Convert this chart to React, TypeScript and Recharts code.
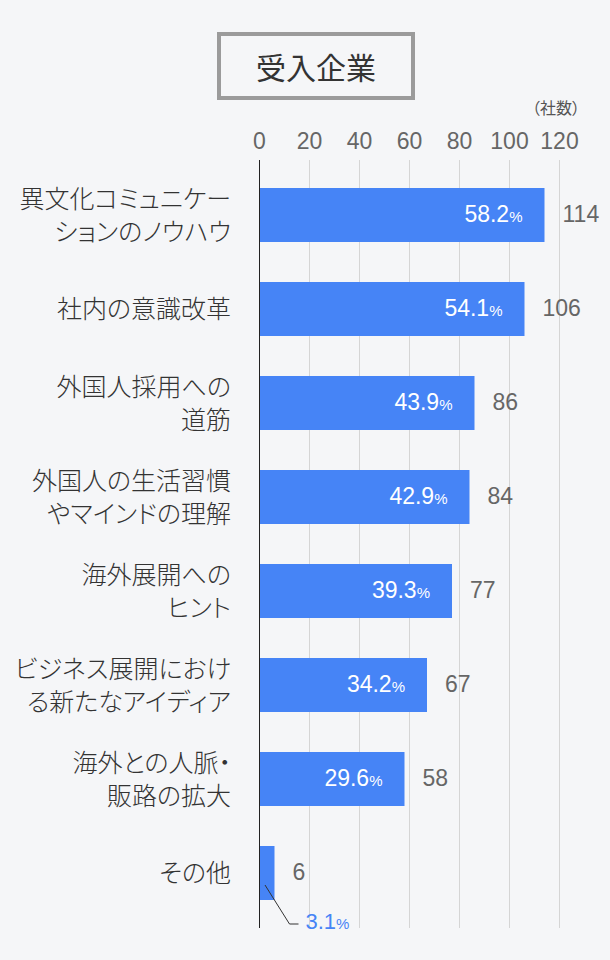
import React from 'react';
import { BarChart, Bar, XAxis, YAxis, CartesianGrid, ReferenceLine, LabelList } from 'recharts';

// 受入企業: what host companies gained (number of companies, share of respondents)
const categories = [
  '異文化コミュニケー\nションのノウハウ',
  '社内の意識改革',
  '外国人採用への\n道筋',
  '外国人の生活習慣\nやマインドの理解',
  '海外展開への\nヒント',
  'ビジネス展開におけ\nる新たなアイディア',
  '海外との人脈・\n販路の拡大',
  'その他',
];
const counts = [114, 106, 86, 84, 77, 67, 58, 6];
const shares = ['58.2', '54.1', '43.9', '42.9', '39.3', '34.2', '29.6', '3.1'];
const xTicks = [0, 20, 40, 60, 80, 100, 120];

const BLUE = '#4684f6';
const BG = '#f5f6f8';
const JP = "'Noto Sans CJK JP', sans-serif";
const NUM = "'Liberation Sans', Arial, sans-serif";

const data = categories.map((name, i) => ({ name, count: counts[i], share: shares[i] }));

const CategoryTick = ({ y, payload }: any) => {
  const lines: string[] = String(payload.value).split('\n');
  const gap = 33;
  const first = y - ((lines.length - 1) * gap) / 2;
  return (
    <text
      textAnchor="end"
      fill="#333"
      fontSize={25}
      fontWeight={300}
      fontFamily={JP}
      style={{ fontFeatureSettings: '"palt"' }}
    >
      {lines.map((line, i) => (
        <tspan key={i} x={231} y={first + i * gap + 9}>
          {line}
        </tspan>
      ))}
    </text>
  );
};

const ValueTick = ({ x, payload }: any) => (
  <text x={x} y={149} textAnchor="middle" fill="#666" fontSize={23} fontFamily={NUM}>
    {payload.value}
  </text>
);

const ShareLabel = (props: any) => {
  const { x, y, width, height, value } = props;
  const cy = y + height / 2;
  if (width < 60) {
    // bar too short: call the share out below it
    return (
      <g>
        <polyline
          points={`${x + 5.5},${cy + 12} ${x + 30},${cy + 51} ${x + 39},${cy + 51}`}
          fill="none"
          stroke="#333"
          strokeWidth={1}
        />
        <text x={x + 46} y={cy + 56} fill={BLUE} fontSize={22} fontFamily={NUM}>
          {value}
          <tspan fontSize={15}>%</tspan>
        </text>
      </g>
    );
  }
  return (
    <text x={x + width - 22} y={cy + 7} textAnchor="end" fill="#fff" fontSize={23} fontFamily={NUM}>
      {value}
      <tspan fontSize={15}>%</tspan>
    </text>
  );
};

const CountLabel = (props: any) => {
  const { x, y, width, height, value } = props;
  return (
    <text x={x + width + 18} y={y + height / 2 + 7} fill="#666" fontSize={23} fontFamily={NUM}>
      {value}
    </text>
  );
};

export default function App() {
  return (
    <div style={{ position: 'absolute', left: 0, top: 0, width: 610, height: 960, background: BG }}>
      <div
        style={{
          position: 'absolute',
          left: 217,
          top: 32,
          width: 198,
          height: 68,
          boxSizing: 'border-box',
          border: '4px solid #9b9b9b',
          display: 'flex',
          alignItems: 'center',
          justifyContent: 'center',
          fontFamily: JP,
          fontSize: 30,
          color: '#333',
        }}
      >
        受入企業
      </div>
      <div
        style={{
          position: 'absolute',
          right: 30,
          top: 97,
          fontFamily: JP,
          fontSize: 16,
          color: '#555',
          lineHeight: '20px',
          fontFeatureSettings: '"palt"',
        }}
      >
        （社数）
      </div>
      <BarChart
        width={610}
        height={960}
        data={data}
        layout="vertical"
        margin={{ top: 120, right: 50.5, left: 0, bottom: 32 }}
        barCategoryGap={40}
      >
        <CartesianGrid horizontal={false} stroke="#d5d5d5" />
        <XAxis
          type="number"
          orientation="top"
          domain={[0, 120]}
          ticks={xTicks}
          height={40}
          axisLine={false}
          tickLine={false}
          tick={<ValueTick />}
          interval={0}
        />
        <YAxis
          type="category"
          dataKey="name"
          width={259.5}
          axisLine={false}
          tickLine={false}
          tick={<CategoryTick />}
          interval={0}
          padding={{ top: 8, bottom: 8 }}
        />
        <Bar dataKey="count" fill={BLUE} barSize={54} isAnimationActive={false}>
          <LabelList dataKey="share" content={<ShareLabel />} />
          <LabelList dataKey="count" content={<CountLabel />} />
        </Bar>
        <ReferenceLine x={0} stroke="#222" strokeWidth={1} />
      </BarChart>
    </div>
  );
}
